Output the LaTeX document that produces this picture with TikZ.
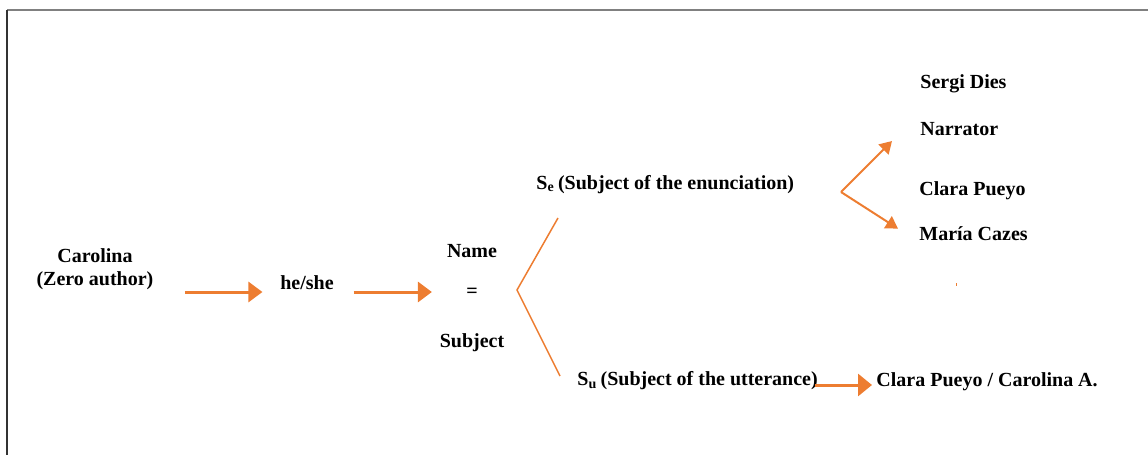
\documentclass[tikz,border=0pt]{standalone}
\usepackage{fontspec}
\setmainfont{Liberation Serif}
\usepackage{xcolor}
\usetikzlibrary{arrows.meta}
\definecolor{orng}{HTML}{ED7D31}

\begin{document}
\begin{tikzpicture}[x=0.5pt,y=-0.5pt,
  lbl/.style={font=\fontsize{10}{11.5}\selectfont\bfseries,inner sep=0pt},
  arr/.style={color=orng,line width=1.5pt,-{Triangle[length=7pt,width=10pt]}},
  thinarr/.style={color=orng,line width=1pt,-{Triangle[length=6pt,width=7pt]}},
  fork/.style={draw=orng,line width=0.75pt}]
  \useasboundingbox (0,0) rectangle (1148,455);
  \draw[gray,line width=0.6pt] (7,10) -- (1148,10);
  \draw[black!80,line width=0.6pt] (7,10) -- (7,455);
  % left chain
  \node[lbl,align=center] (caro) at (95,269) {Carolina\\(Zero author)};
  \node[lbl,anchor=base] (he) at (307,289) {he/she};
  \node[lbl,anchor=base] (name) at (472,257) {Name};
  \node[lbl] (eq) at (472,293) {=};
  \node[lbl,anchor=base] (subj) at (472,347) {Subject};
  % subjects
  \node[lbl,anchor=base west] (se) at (536,189) {S\textsubscript{e}\,(Subject of the enunciation)};
  \node[lbl,anchor=base west] (su) at (577,385) {S\textsubscript{u}\,(Subject of the utterance)};
  \node[lbl,anchor=base west] (cc) at (876,386) {Clara Pueyo / Carolina A.};
  % names on the right
  \node[lbl,anchor=base west] (sd) at (920,89) {Sergi Dies};
  \node[lbl,anchor=base west] (nar) at (920,135) {Narrator};
  \node[lbl,anchor=base west] (cp) at (919,195) {Clara Pueyo};
  \node[lbl,anchor=base west] (mc) at (919,240) {María Cazes};
  \coordinate (row) at (0,292);
  \coordinate (fork) at (517,290);
  \coordinate (forkup) at (558,218);
  \coordinate (forkdn) at (560,376);
  \coordinate (rfork) at (841,192);
  \path[arr]
    (caro.east |- row) edge [shorten <=15.5pt, shorten >=8.75pt] (he.west |- row)
    (he.east |- row) edge [shorten <=9.75pt, shorten >=17pt] (eq.west |- row)
    (su.east |- su.base) edge [-{Triangle[length=7pt,width=11pt]}, shorten <=-1.5pt, shorten >=2pt] (cc.west |- su.base);
  \draw[fork] (forkup) -- (fork) -- (forkdn);
  \path[thinarr]
    (rfork) edge ([xshift=-14pt,yshift=-6.25pt]nar.west)
    (rfork) edge ([xshift=-10.5pt,yshift=2.25pt]mc.west);
  \draw[orng,line width=0.5pt] (956,283) -- (956,286);
\end{tikzpicture}
\end{document}
